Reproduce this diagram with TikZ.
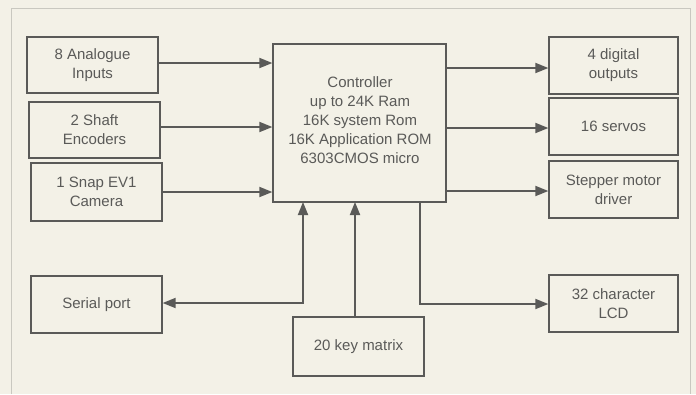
\documentclass[tikz,border=0pt]{standalone}
\usepackage{fontspec}
\setmainfont{Liberation Sans}
\usetikzlibrary{arrows.meta}
\definecolor{bg}{HTML}{F3F1E7}
\definecolor{ink}{HTML}{5A5A58}
\definecolor{frame}{HTML}{C9C8C0}
\tikzset{
  blk/.style={draw=ink, line width=1.3pt, text=ink, align=center, inner sep=0pt,
    font=\fontsize{15}{19}\selectfont},
  conn/.style={draw=ink, line width=1.8pt, -{Triangle[length=13pt,width=10pt]}},
  conn2/.style={draw=ink, line width=1.8pt, {Triangle[length=13pt,width=10pt]}-{Triangle[length=13pt,width=10pt]}}
}
\begin{document}
\begin{tikzpicture}[x=1pt,y=-1pt]
\fill[bg] (0,0) rectangle (696,394);
\useasboundingbox (0,0) rectangle (696,394);
\draw[frame, line width=1pt] (11,394) -- (11,8) -- (690,8) -- (690,394);
% left column
\node[blk, minimum width=131pt, minimum height=56pt] (ana) at (92.5,65) {8 Analogue\\Inputs};
\node[blk, minimum width=131pt, minimum height=56pt] (shaft) at (94.5,130) {2 Shaft\\Encoders};
\node[blk, minimum width=131pt, minimum height=58pt] (cam) at (96.5,192) {1 Snap EV1\\Camera};
\node[blk, minimum width=131pt, minimum height=57pt] (serial) at (96.5,304.5) {Serial port};
% controller
\node[blk, minimum width=173pt, minimum height=158pt] (ctrl) at (359.5,123) {};
\node[blk, draw=none] (ctxt) at (360,120) {Controller\\up to 24K Ram\\16K system Rom\\16K Application ROM\\6303CMOS micro};
% key matrix
\node[blk, minimum width=131pt, minimum height=59pt] (key) at (358.5,346.5) {20 key matrix};
% right column
\node[blk, minimum width=129pt, minimum height=57pt] (dig) at (613.5,65.5) {4 digital\\outputs};
\node[blk, minimum width=129pt, minimum height=57pt] (servo) at (613.5,126.5) {16 servos};
\node[blk, minimum width=129pt, minimum height=57pt] (step) at (613.5,189.5) {Stepper motor\\driver};
\node[blk, minimum width=129pt, minimum height=57pt] (lcd) at (613.5,303.5) {32 character\\LCD};
% connectors
\coordinate (a1) at ([yshift=2pt]ana.east);
\coordinate (a2) at ([yshift=3pt]shaft.east);
\coordinate (r1) at ([yshift=-2.5pt]dig.west);
\coordinate (r2) at ([yshift=-1.5pt]servo.west);
\coordinate (r3) at ([yshift=-1.5pt]step.west);
\coordinate (r4) at ([yshift=-0.5pt]lcd.west);
\draw[conn] (a1) -- (a1 -| ctrl.west);
\draw[conn] (a2) -- (a2 -| ctrl.west);
\draw[conn] (cam.east) -- (cam.east -| ctrl.west);
\draw[conn] (ctrl.east |- r1) -- (r1);
\draw[conn] (ctrl.east |- r2) -- (r2);
\draw[conn] (ctrl.east |- r3) -- (r3);
\coordinate (cs) at (303,202);
\coordinate (ck) at (355,202);
\coordinate (cl) at (420,202);
\coordinate (se) at ([yshift=1.5pt]serial.east);
\draw[conn2] (se) -| (cs);
\draw[conn] (key.north -| ck) -- (ck);
\draw[conn] (cl) |- (r4);
\end{tikzpicture}
\end{document}
